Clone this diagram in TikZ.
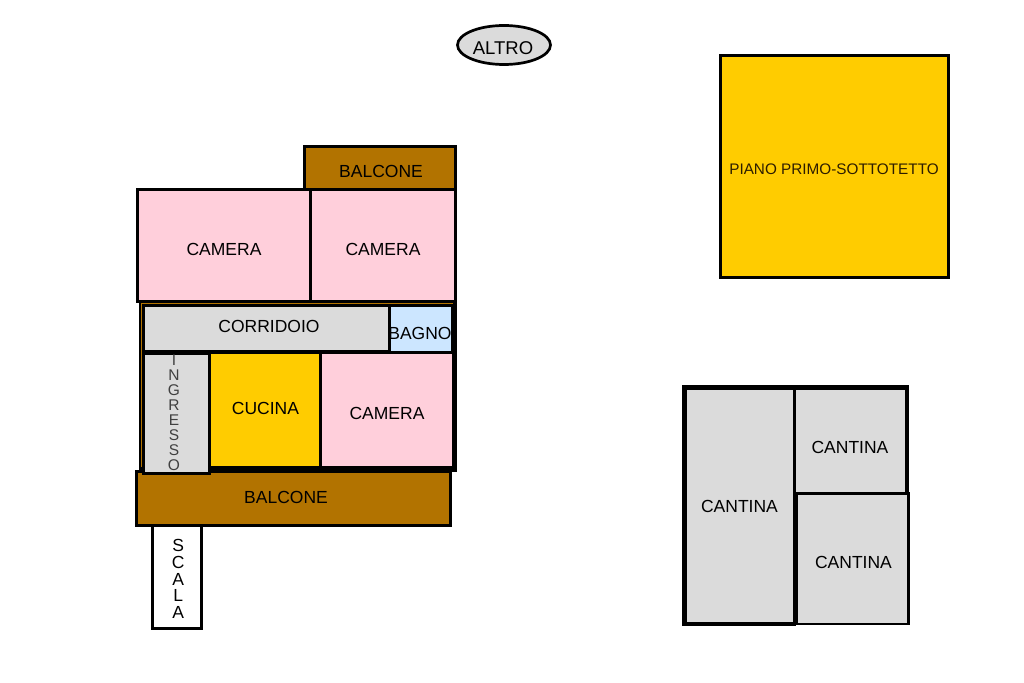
\documentclass[tikz,border=0pt]{standalone}
\usepackage{fontspec}
\usetikzlibrary{shapes.geometric}
\setmainfont{Liberation Sans}
\definecolor{pinkroom}{HTML}{FFCFDB}
\definecolor{goldroom}{HTML}{FFCC00}
\definecolor{brownroom}{HTML}{B27300}
\definecolor{grayroom}{HTML}{DBDBDB}
\definecolor{blueroom}{HTML}{CCE6FF}
\tikzset{
  room/.style={draw=black,line width=3pt,miter limit=10},
  lab/.style={inner sep=0pt,font=\fontsize{17.5}{20}\selectfont,text=black},
  stack/.style={inner sep=0pt,align=center,text=black}
}
\begin{document}
\begin{tikzpicture}[x=1pt,y=-1pt]
\useasboundingbox (0,0) rectangle (1024,682);
\fill[white] (0,0) rectangle (1024,682);
% altro
\node[draw=black,line width=2.7pt,fill=grayroom,ellipse,minimum width=93pt,minimum height=39pt,inner sep=0pt] (altroshape) at (504,45) {};
\node[lab,font=\fontsize{18.5}{20}\selectfont] (altro) at (503,48) {ALTRO};
% lower block
\fill[brownroom] (139,302) rectangle (455,470);
\draw[black,line width=2.5pt] (139.8,302) -- (139.8,470);
\draw[black,line width=4.2pt] (454.7,302) -- (454.7,470);
\draw[black,line width=5pt] (139,469) -- (456.8,469);
% upper flat
\draw[room,fill=brownroom] (304.5,146.5) rectangle (455.5,189.5);
\node[lab] (balconeA) at (381,171) {BALCONE};
\draw[room,fill=pinkroom] (137.5,189.5) rectangle (310.5,301.5);
\draw[room,fill=pinkroom] (310.5,189.5) rectangle (455.5,301.5);
\node[lab] (cameraA) at (224,249) {CAMERA};
\node[lab] (cameraB) at (383,249) {CAMERA};
% rooms
\draw[room,fill=pinkroom] (320.5,352.5) rectangle (453.5,467.5);
\draw[room,fill=goldroom] (209.5,352.5) rectangle (320.5,467.5);
\draw[room,fill=grayroom] (143.5,305.4) rectangle (389,351.5);
\draw[room,fill=blueroom] (389,305.4) rectangle (452.5,352.5);
\node[lab] (corridoio) at (269,326.5) {CORRIDOIO};
\node[lab] (bagno) at (420,333) {BAGNO};
\node[lab] (cucina) at (265.5,408.5) {CUCINA};
\node[lab] (cameraC) at (387,413.5) {CAMERA};
\draw[room,fill=brownroom] (136.5,471) rectangle (450.5,525);
\node[lab] (balconeB) at (286,497.5) {BALCONE};
\draw[room,fill=grayroom] (143.5,353.5) rectangle (209.5,473);
\node[stack,font=\fontsize{15.5}{15}\selectfont,text=black!75] (ingresso) at (174,413) {I\\N\\G\\R\\E\\S\\S\\O};
\draw[room,fill=white] (152.5,525) rectangle (201.5,628.5);
\node[stack,font=\fontsize{17.5}{16.8}\selectfont] (scala) at (178.3,579) {S\\C\\A\\L\\A};
% upper right
\draw[room,fill=goldroom] (720.5,55.5) rectangle (948,277.5);
\node[lab,font=\fontsize{15.3}{20}\selectfont,text=black!75!brownroom] (piano) at (834,169) {PIANO PRIMO-SOTTOTETTO};
% cantine
\fill[grayroom] (684,387) rectangle (906,624);
\draw[black,line width=5pt] (684.5,624) -- (684.5,387.5) -- (908.5,387.5);
\draw[black,line width=4pt] (906.5,385) -- (906.5,494);
\draw[black,line width=2.4pt] (794.5,387) -- (794.5,624);
\draw[black,line width=3.4pt] (682,624) -- (796,624);
\draw[draw=black,line width=2.7pt,fill=grayroom] (796.8,493.6) rectangle (908.3,624);
\node[lab] (cantinaA) at (739.5,506.5) {CANTINA};
\node[lab] (cantinaB) at (850,447.5) {CANTINA};
\node[lab] (cantinaC) at (853.5,562.5) {CANTINA};
\end{tikzpicture}
\end{document}
